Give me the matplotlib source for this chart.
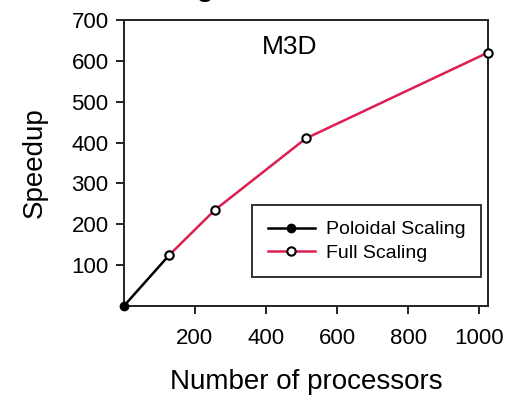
import matplotlib.pyplot as plt

plt.rcParams['font.family'] = ['Liberation Sans', 'DejaVu Sans']

# poloidal scaling
pol_x = [1, 128]
pol_y = [1, 125]
# full scaling
full_x = [128, 256, 512, 1024]
full_y = [125, 235, 410, 620]

xticks = [200, 400, 600, 800, 1000]
yticks = [100, 200, 300, 400, 500, 600, 700]

fig = plt.figure(figsize=(5.18, 3.97), dpi=100)
ax = fig.add_axes([0.239, 0.229, 0.703, 0.721])

ax.plot(pol_x, pol_y, color='black', lw=1.8, marker='o', ms=6,
        mfc='black', mec='black', label='Poloidal Scaling', clip_on=False, zorder=3)
ax.plot(full_x, full_y, color='#dc1e50', lw=1.8, marker='o', ms=6,
        mfc='white', mec='black', mew=1.5, label='Full Scaling', clip_on=False, zorder=3)

ax.set_xlim(0, 1024)
ax.set_ylim(0, 700)
ax.set_xticks(xticks)
ax.set_yticks(yticks)
ax.tick_params(labelsize=16, length=6, width=1.4, color='#222222')
ax.tick_params(axis='x', pad=10)
ax.tick_params(axis='y', pad=5)
for s in ax.spines.values():
    s.set_linewidth(1.4)
    s.set_color('#222222')

ax.set_xlabel('Number of processors', fontsize=20, labelpad=14)
ax.set_ylabel('Speedup', fontsize=20, labelpad=17)

ax.text(467, 633, 'M3D', fontsize=19, ha='center', va='center')

leg = ax.legend(loc='lower right', bbox_to_anchor=(0.982, 0.10), fontsize=14,
                frameon=True, fancybox=False, edgecolor='black',
                handlelength=2.4, handletextpad=0.6, borderpad=0.8,
                labelspacing=0.3, borderaxespad=0)
leg.get_frame().set_linewidth(1.4)

# cut-off title text at the top edge
fig.text(0.396, 1.012, 'g', fontsize=24, ha='center', va='baseline')

fig.savefig('out.png', dpi=100)
